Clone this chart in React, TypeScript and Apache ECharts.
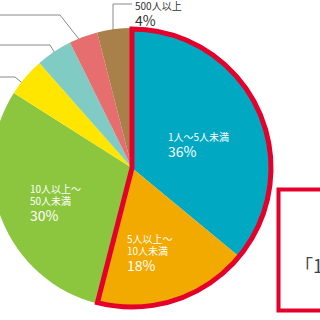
import React, { useEffect, useRef } from "react";
import * as echarts from "echarts";

// ---- data ----
const categories = [
  "1人〜5人未満",
  "5人以上〜\n10人未満",
  "10人以上〜\n50人未満",
  "50人以上〜100人未満",
  "100人以上〜300人未満",
  "300人以上〜500人未満",
  "500人以上",
];
const values = [36, 18, 30, 4.5, 4.2, 3.3, 4];
const percentLabels = ["36%", "18%", "30%", "", "", "", "4%"];
const labelShown = [true, true, true, false, false, false, true];
const groupValues = [54, 46]; // 1人〜10人未満 highlighted group vs rest
const calloutText = "「1";

// ---- styles ----
const colors = ["#00a8c2", "#f2a900", "#8cc63f", "#ffe600", "#80cbc4", "#e66e6e", "#a9804a"];
const RED = "#e4002b";
const FONT = "Noto Sans CJK JP";
const CENTER: [number, number] = [132, 168];
const RADIUS = 140;

// label anchor (top-left) per slice
const labelPos: [number, number][] = [
  [168, 130],
  [127, 232],
  [30, 182],
  [-80, 70],
  [-80, 38],
  [-80, 8],
  [135, -1],
];
const linePts: ([number, number][] | undefined)[] = [
  undefined,
  undefined,
  undefined,
  [[26, 86], [15, 77], [-6, 77]],
  [[59, 60], [50, 45], [-6, 45]],
  [[82, 43], [60, 15], [-6, 15]],
  [[113, 40], [113, 4], [132, 4]],
];

export default function App() {
  const ref = useRef<HTMLDivElement>(null);
  useEffect(() => {
    document.body.style.margin = "0";
    const chart = echarts.init(ref.current!, null, { renderer: "svg" });
    const data = values.map((v, i) => ({
      name: categories[i],
      value: v,
      itemStyle: { color: colors[i] },
      label: {
        position: i < 3 ? "inside" : "outside",
        color: i < 3 ? "#ffffff" : "#333333",
      },
    }));
    chart.setOption({
      animation: false,
      series: [
        {
          type: "pie",
          center: CENTER,
          radius: RADIUS,
          startAngle: 90,
          clockwise: true,
          avoidLabelOverlap: false,
          silent: true,
          data,
          label: {
            show: true,
            fontFamily: FONT,
            formatter: (p: any) => {
              const i = p.dataIndex;
              if (!labelShown[i]) return " ";
              const lines = categories[i]
                .split("\n")
                .map((l) => `{s|${l}}`)
                .join("\n");
              return `${lines}\n{b|${percentLabels[i]}}`;
            },
            rich: {
              s: { fontSize: 10, lineHeight: 12, fontFamily: FONT },
              b: { fontSize: 14, lineHeight: 17, fontFamily: FONT },
            },
          },
          labelLine: {
            show: true,
            length: 10,
            length2: 20,
            lineStyle: { color: "#8a8a8a", width: 1 },
          },
          labelLayout: (params: any) => {
            const i = params.dataIndex;
            const pos = labelPos[i];
            const out: any = { x: pos[0], y: pos[1], align: "left", verticalAlign: "top" };
            if (linePts[i]) out.labelLinePoints = linePts[i];
            return out;
          },
        },
        {
          type: "pie",
          center: CENTER,
          radius: RADIUS - 1,
          startAngle: 90,
          clockwise: true,
          silent: true,
          label: { show: false },
          labelLine: { show: false },
          data: [
            {
              value: groupValues[0],
              itemStyle: { color: "rgba(0,0,0,0)", borderColor: RED, borderWidth: 5, borderJoin: "miter" },
            },
            {
              value: groupValues[1],
              itemStyle: { color: "rgba(0,0,0,0)", borderWidth: 0 },
            },
          ],
        },
      ],
      graphic: [
        {
          type: "rect",
          shape: { x: 278.5, y: 189.5, width: 80, height: 121 },
          style: { fill: "#ffffff", stroke: RED, lineWidth: 4 },
        },
        {
          type: "text",
          x: 295,
          y: 265,
          style: {
            text: calloutText,
            fontSize: 18,
            fontFamily: FONT,
            fill: "#444444",
            verticalAlign: "middle",
          },
        },
      ],
    });
    return () => chart.dispose();
  }, []);
  return <div ref={ref} style={{ width: 320, height: 320 }} />;
}
